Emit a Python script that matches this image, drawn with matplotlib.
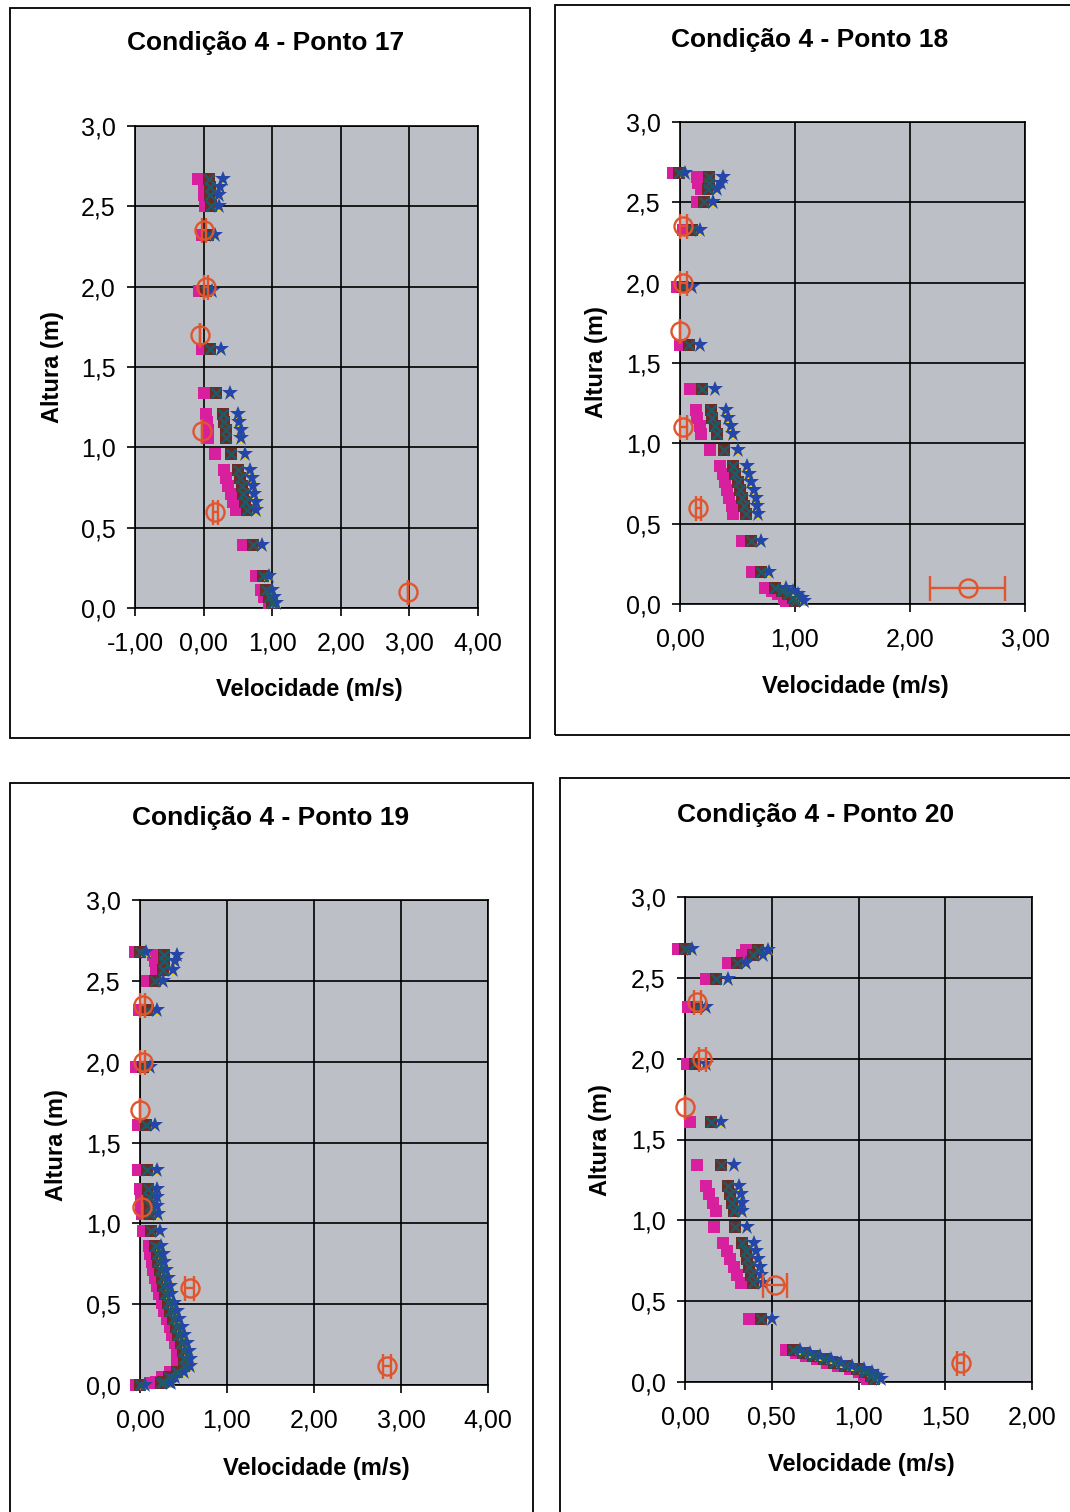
import matplotlib
matplotlib.use("Agg")
import matplotlib.pyplot as plt
from matplotlib.ticker import MultipleLocator, FuncFormatter
from matplotlib.patches import Rectangle

plt.rcParams['font.family'] = ['Liberation Sans', 'DejaVu Sans']

W, H = 1070, 1512

# ---- Ponto 17 ----
h17 = [2.67, 2.62, 2.57, 2.50, 2.32, 1.97, 1.61, 1.34, 1.21, 1.16, 1.11, 1.06,
       0.96, 0.86, 0.81, 0.76, 0.71, 0.66, 0.61, 0.39, 0.20, 0.11, 0.07, 0.03]
mag17 = [-0.08, 0.00, 0.00, 0.02, -0.02, -0.06, -0.02, 0.00, 0.04, 0.05, 0.06, 0.07,
         0.17, 0.30, 0.33, 0.36, 0.40, 0.43, 0.47, 0.58, 0.76, 0.83, 0.88, 0.95]
brn17 = [0.08, 0.10, 0.10, 0.11, 0.06, 0.03, 0.10, 0.18, 0.28, 0.30, 0.32, 0.33,
         0.40, 0.50, 0.53, 0.56, 0.58, 0.61, 0.63, 0.72, 0.86, 0.91, 0.95, 1.00]
blu17 = [0.28, 0.24, 0.22, 0.22, 0.16, 0.12, 0.26, 0.39, 0.50, 0.52, 0.54, 0.55,
         0.61, 0.68, 0.70, 0.72, 0.74, 0.76, 0.77, 0.85, 0.95, 0.99, 1.02, 1.06]
hr17 = [2.35, 2.00, 1.70, 1.10, 0.60, 0.10]
vr17 = [0.00, 0.03, -0.05, -0.03, 0.17, 2.98]
er17 = [0.03, 0.03, 0.00, 0.00, 0.04, 0.00]

# ---- Ponto 18 ----
h18 = [2.68, 2.66, 2.62, 2.58, 2.50, 2.33, 1.97, 1.61, 1.34, 1.21, 1.16, 1.11, 1.06,
       0.96, 0.86, 0.81, 0.76, 0.71, 0.66, 0.61, 0.56, 0.39, 0.20, 0.10, 0.08, 0.06,
       0.04, 0.02]
mag18 = [-0.06, 0.15, 0.16, 0.18, 0.15, 0.03, -0.03, 0.00, 0.09, 0.14, 0.15, 0.17, 0.18,
         0.26, 0.35, 0.37, 0.39, 0.41, 0.43, 0.45, 0.46, 0.54, 0.63, 0.74, 0.80, 0.85,
         0.90, 0.92]
brn18 = [-0.01, 0.25, 0.25, 0.24, 0.21, 0.10, 0.03, 0.08, 0.19, 0.27, 0.28, 0.30, 0.32,
         0.38, 0.46, 0.48, 0.50, 0.52, 0.54, 0.56, 0.57, 0.62, 0.70, 0.83, 0.89, 0.94,
         0.98, 1.00]
blu18 = [0.04, 0.37, 0.36, 0.32, 0.29, 0.17, 0.10, 0.17, 0.30, 0.40, 0.42, 0.44, 0.46,
         0.50, 0.58, 0.60, 0.62, 0.64, 0.66, 0.67, 0.68, 0.70, 0.77, 0.92, 0.98, 1.03,
         1.06, 1.08]
hr18 = [2.35, 2.00, 1.70, 1.10, 0.60, 0.10]
vr18 = [0.03, 0.03, 0.00, 0.03, 0.16, 2.50]
er18 = [0.03, 0.03, 0.00, 0.03, 0.02, 0.33]

# ---- Ponto 19 ----
h19 = [2.68, 2.66, 2.62, 2.57, 2.50, 2.32, 1.97, 1.61, 1.33, 1.21, 1.16, 1.11, 1.06,
       0.95, 0.86, 0.81, 0.76, 0.71, 0.66, 0.61, 0.56, 0.51, 0.46, 0.41, 0.36, 0.31,
       0.26, 0.21, 0.16, 0.12, 0.08, 0.05, 0.02, 0.01, 0.00]
mag19 = [-0.06, 0.15, 0.17, 0.18, 0.08, -0.01, -0.05, -0.02, -0.02, 0.00, 0.01, 0.01, 0.02,
         0.04, 0.10, 0.12, 0.14, 0.15, 0.17, 0.19, 0.22, 0.25, 0.28, 0.31, 0.34, 0.37,
         0.40, 0.42, 0.43, 0.42, 0.35, 0.25, 0.18, 0.12, -0.05]
brn19 = [0.00, 0.28, 0.28, 0.27, 0.17, 0.09, 0.03, 0.07, 0.08, 0.09, 0.10, 0.11, 0.12,
         0.13, 0.17, 0.19, 0.21, 0.23, 0.25, 0.27, 0.29, 0.32, 0.35, 0.38, 0.41, 0.44,
         0.47, 0.49, 0.50, 0.50, 0.43, 0.33, 0.26, 0.24, 0.00]
blu19 = [0.07, 0.42, 0.40, 0.38, 0.27, 0.20, 0.11, 0.17, 0.19, 0.19, 0.20, 0.20, 0.21,
         0.23, 0.24, 0.26, 0.28, 0.30, 0.32, 0.34, 0.36, 0.39, 0.42, 0.45, 0.48, 0.51,
         0.54, 0.56, 0.58, 0.57, 0.50, 0.40, 0.33, 0.36, 0.06]
hr19 = [2.35, 2.00, 1.70, 1.10, 0.60, 0.12]
vr19 = [0.03, 0.03, 0.00, 0.02, 0.57, 2.84]
er19 = [0.03, 0.03, 0.00, 0.00, 0.05, 0.05]

# ---- Ponto 20 ----
h20 = [2.68, 2.67, 2.64, 2.59, 2.49, 2.32, 1.97, 1.61, 1.34, 1.21, 1.16, 1.11, 1.06,
       0.96, 0.86, 0.81, 0.76, 0.71, 0.66, 0.61, 0.39, 0.20, 0.18, 0.16, 0.14, 0.12,
       0.10, 0.08, 0.06, 0.04, 0.02]
mag20 = [-0.04, 0.35, 0.33, 0.25, 0.12, 0.02, 0.01, 0.03, 0.07, 0.12, 0.14, 0.16, 0.18,
         0.17, 0.22, 0.24, 0.26, 0.28, 0.30, 0.32, 0.37, 0.58, 0.64, 0.70, 0.76, 0.82,
         0.88, 0.95, 1.00, 1.03, 1.05]
brn20 = [0.00, 0.42, 0.39, 0.30, 0.18, 0.07, 0.06, 0.15, 0.21, 0.25, 0.26, 0.27, 0.28,
         0.29, 0.33, 0.35, 0.36, 0.37, 0.38, 0.39, 0.44, 0.62, 0.68, 0.74, 0.80, 0.86,
         0.92, 0.99, 1.04, 1.07, 1.09]
blu20 = [0.04, 0.48, 0.45, 0.35, 0.25, 0.12, 0.12, 0.21, 0.28, 0.31, 0.32, 0.33, 0.33,
         0.36, 0.40, 0.41, 0.42, 0.43, 0.44, 0.45, 0.50, 0.66, 0.72, 0.78, 0.84, 0.90,
         0.96, 1.03, 1.08, 1.11, 1.13]
hr20 = [2.35, 2.00, 1.70, 0.60, 0.12]
vr20 = [0.07, 0.10, 0.00, 0.52, 1.59]
er20 = [0.02, 0.02, 0.00, 0.07, 0.02]

titles = ["Condição 4 - Ponto 17", "Condição 4 - Ponto 18",
          "Condição 4 - Ponto 19", "Condição 4 - Ponto 20"]
xlims = [(-1, 4, 1), (0, 3, 1), (0, 4, 1), (0, 2, 0.5)]

# plot area boxes in pixels: left, top, right, bottom
areas = [(135, 126, 478, 608), (680, 122, 1025, 604),
         (140, 900, 488, 1385), (685, 897, 1032, 1382)]
frames = [(10, 8, 530, 738), (555, 5, 1075, 735),
          (10, 783, 533, 1515), (560, 778, 1075, 1515)]
title_pos = [(266, 43), (810, 40), (271, 818), (816, 815)]
xlab_pos = [(309, 690), (855, 686), (316, 1468), (861, 1465)]
ylab_pos = [(52, 367), (597, 362), (57, 1145), (601, 1140)]

panels = [(h17, mag17, brn17, blu17, hr17, vr17, er17),
          (h18, mag18, brn18, blu18, hr18, vr18, er18),
          (h19, mag19, brn19, blu19, hr19, vr19, er19),
          (h20, mag20, brn20, blu20, hr20, vr20, er20)]

fig = plt.figure(figsize=(W / 100, H / 100), dpi=100)

for i, (h, mag, brn, blu, hr, vr, er) in enumerate(panels):
    fl, ft, fr, fb = frames[i]
    fig.patches.append(Rectangle((fl / W, 1 - fb / H), (fr - fl) / W, (fb - ft) / H,
                                 transform=fig.transFigure, fill=False,
                                 edgecolor='black', lw=1.3))
    l, t, r, b = areas[i]
    ax = fig.add_axes([l / W, 1 - b / H, (r - l) / W, (b - t) / H])
    ax.set_facecolor('#bcbfc5')
    x0, x1, step = xlims[i]
    ax.set_xlim(x0, x1)
    ax.set_ylim(0, 3)
    ax.xaxis.set_major_locator(MultipleLocator(step))
    ax.yaxis.set_major_locator(MultipleLocator(0.5))
    ax.xaxis.set_major_formatter(FuncFormatter(lambda v, p: f"{v:.2f}".replace('.', ',')))
    ax.yaxis.set_major_formatter(FuncFormatter(lambda v, p: f"{v:.1f}".replace('.', ',')))
    ax.grid(True, color='black', lw=1.2)
    ax.set_axisbelow(True)
    for s in ax.spines.values():
        s.set_color('black')
        s.set_linewidth(1.2)
    ax.tick_params(labelsize=18, length=6, width=1.2, pad=8, color='black')
    ax.tick_params(axis='x', pad=11)

    ax.plot(mag, h, 's', color='#d81f9e', ms=8, mew=0, clip_on=False, zorder=3)
    ax.plot(brn, h, 's', color='#6e2a24', ms=8, mew=0, clip_on=False, zorder=4)
    ax.plot(blu, h, '^', color='#f2d21e', ms=7, mew=0, clip_on=False, zorder=4)
    ax.plot(blu, h, '*', color='#2346a8', ms=12, mew=0, clip_on=False, zorder=5)
    ax.plot(brn, h, 'x', color='#1f5a68', ms=7, mew=1.8, clip_on=False, zorder=5)
    ax.errorbar(vr, hr, xerr=er, fmt='o', mfc='none', mec='#e0542e', ecolor='#e0542e',
                ms=13, mew=1.7, elinewidth=1.7, capsize=9, capthick=1.7,
                clip_on=False, zorder=6)

    fig.text(title_pos[i][0] / W, 1 - title_pos[i][1] / H, titles[i],
             ha='center', va='center', fontsize=19, fontweight='bold')
    fig.text(xlab_pos[i][0] / W, 1 - xlab_pos[i][1] / H, "Velocidade (m/s)",
             ha='center', va='center', fontsize=17, fontweight='bold')
    fig.text(ylab_pos[i][0] / W, 1 - ylab_pos[i][1] / H, "Altura (m)",
             ha='center', va='center', fontsize=17, fontweight='bold', rotation=90)

fig.savefig("out.png", dpi=100, facecolor='white')
